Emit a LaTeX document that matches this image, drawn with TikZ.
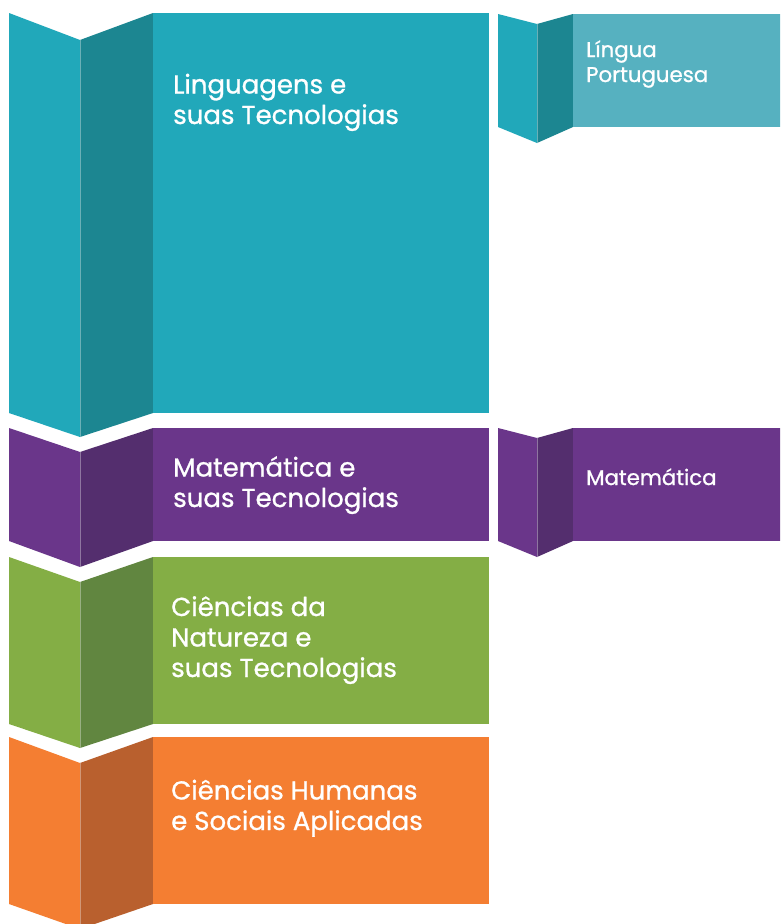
\documentclass[tikz,border=0pt]{standalone}
\usepackage{fontspec}
\setmainfont{Poppins}
\newfontfamily\medfont{Poppins}[FakeBold=0.9]
\definecolor{teal1}{HTML}{21A8BA}
\definecolor{teal2}{HTML}{1C8691}
\definecolor{teal3}{HTML}{56B1C0}
\definecolor{purp1}{HTML}{6A368A}
\definecolor{purp2}{HTML}{542E6E}
\definecolor{gree1}{HTML}{84AE45}
\definecolor{gree2}{HTML}{618640}
\definecolor{oran1}{HTML}{F47E32}
\definecolor{oran2}{HTML}{B9602E}
\tikzset{
  bigtext/.style={anchor=base west, text=white, font=\medfont\fontsize{26}{30.5}\selectfont, align=left, inner sep=0pt},
  smalltext/.style={anchor=base west, text=white, font=\medfont\fontsize{21.3}{25}\selectfont, align=left, inner sep=0pt},
  foldline/.style={draw=white, draw opacity=0.35, line width=0.8pt}
}
% #1 top, #2 top fold, #3 bottom, #4 bottom fold, #5 light, #6 dark, #7 main colour
% #8 x left, #9 x fold; \xdark and \xend give the dark panel edge and the right end
\newcommand{\folded}[9]{%
  \fill[#5] (#8,#1) -- (#9,#2) -- (#9,#4) -- (#8,#3) -- cycle;
  \fill[#6] (#9,#2) -- (\xdark,#1) -- (\xdark,#3) -- (#9,#4) -- cycle;
  \fill[#7] (\xdark,#1) rectangle (\xend,#3);
  \draw[foldline] (#9,#2) -- (#9,#4);
}
\begin{document}
\begin{tikzpicture}[x=1pt,y=-1pt]
\useasboundingbox (0,0) rectangle (780,924);
\clip (0,0) rectangle (780,924);
\fill[white] (0,0) rectangle (780,924);
% left column
\def\xdark{153}\def\xend{489}
\folded{13}{40}{413}{437}{teal1}{teal2}{teal1}{9}{80}
\folded{428}{452}{541}{567}{purp1}{purp2}{purp1}{9}{80}
\folded{557}{582}{724}{748}{gree1}{gree2}{gree1}{9}{80}
\folded{737}{763}{904}{929}{oran1}{oran2}{oran1}{9}{80}
% right column
\def\xdark{573}\def\xend{781}
\folded{14}{24}{127}{143}{teal1}{teal2}{teal3}{498}{537}
\folded{428}{438}{541}{557}{purp1}{purp2}{purp1}{498}{537}
% texts (anchored at the baseline of the last line)
\node[bigtext] (ling) at (173,124) {Linguagens e\\suas Tecnologias};
\node[bigtext] (mat) at (173,507) {Matemática e\\suas Tecnologias};
\node[bigtext] (nat) at (171,677) {Ciências da\\Natureza e\\suas Tecnologias};
\node[bigtext] (hum) at (171,830) {Ciências Humanas\\e Sociais Aplicadas};
\node[smalltext] (lp) at (586,82) {Língua\\Portuguesa};
\node[smalltext] (m) at (586,485) {Matemática};
\end{tikzpicture}
\end{document}
